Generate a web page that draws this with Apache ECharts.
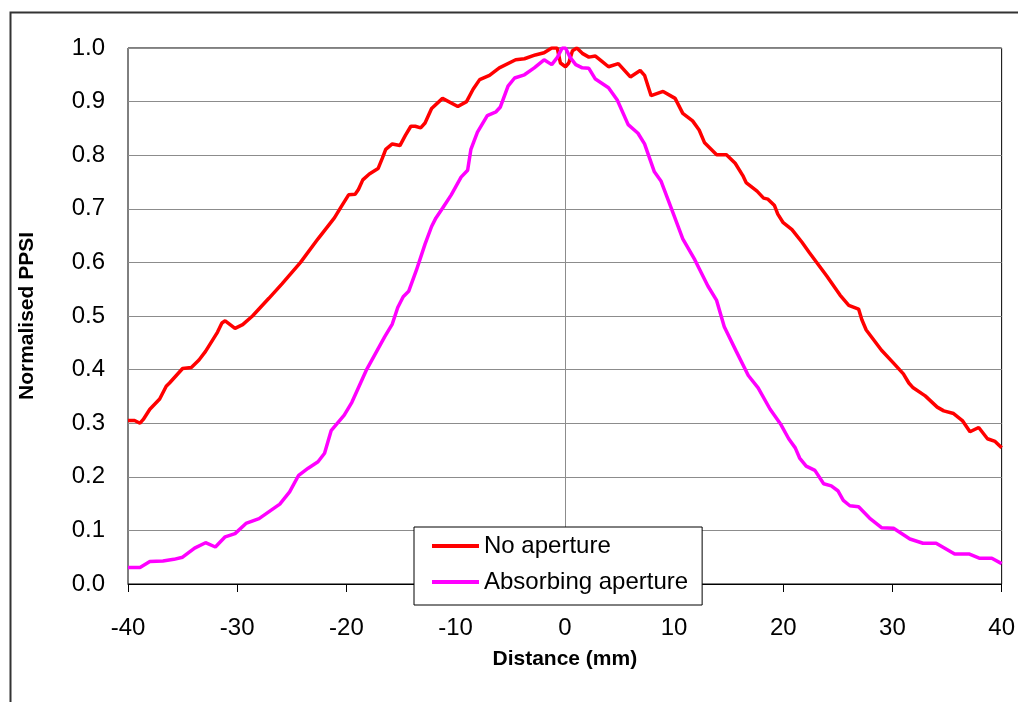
<!DOCTYPE html>
<html>
<head>
<meta charset="utf-8">
<script src="https://cdn.jsdelivr.net/npm/echarts@6/dist/echarts.min.js"></script>
<style>
html,body{margin:0;padding:0;background:#fff;}
#chart{width:1018px;height:702px;}
</style>
</head>
<body>
<div id="chart"></div>
<script>
// ---- Data ----
const seriesNames = ['No aperture', 'Absorbing aperture'];
const noApertureX = [-40,-39.4,-38.9,-38.6,-38.0,-37.1,-36.5,-36.2,-35.0,-34.2,-33.5,-32.9,-31.8,-31.4,-31.1,-30.2,-29.5,-28.6,-27.1,-25.9,-24.2,-22.6,-21.1,-20.5,-19.8,-19.2,-18.9,-18.5,-17.9,-17.1,-16.7,-16.4,-15.8,-15.1,-14.6,-14.1,-13.7,-13.2,-12.8,-12.2,-11.2,-9.8,-9.0,-8.4,-7.8,-6.9,-6.0,-4.5,-3.7,-2.7,-1.9,-1.2,-0.7,-0.4,0.06,0.36,0.7,1.1,1.6,2.2,2.8,3.4,4.0,4.9,6.0,6.9,7.3,7.9,9.0,10.1,10.8,11.7,12.3,12.8,13.9,14.8,15.6,16.3,16.6,17.6,18.2,18.6,19.2,19.5,20.0,20.8,21.7,22.4,23.1,24.0,25.2,26.0,26.9,27.2,27.6,29.0,30.1,31.0,31.5,31.9,33.0,34.1,34.7,35.6,36.4,37.1,37.9,38.7,39.4,40.0];
const noApertureY = [0.305,0.305,0.300,0.307,0.326,0.345,0.369,0.375,0.402,0.404,0.418,0.434,0.470,0.487,0.491,0.477,0.484,0.500,0.533,0.560,0.600,0.644,0.683,0.703,0.726,0.727,0.736,0.754,0.765,0.775,0.795,0.811,0.821,0.818,0.837,0.854,0.854,0.851,0.860,0.887,0.906,0.891,0.900,0.923,0.941,0.949,0.963,0.978,0.980,0.987,0.991,1.0,1.0,0.972,0.965,0.972,0.995,1.0,0.990,0.983,0.985,0.975,0.965,0.971,0.946,0.958,0.949,0.911,0.919,0.906,0.878,0.864,0.847,0.823,0.801,0.801,0.785,0.762,0.749,0.733,0.720,0.718,0.706,0.690,0.674,0.661,0.638,0.618,0.599,0.574,0.539,0.520,0.513,0.493,0.474,0.436,0.412,0.392,0.375,0.366,0.351,0.330,0.323,0.318,0.305,0.284,0.292,0.271,0.266,0.254];
const absorbingX = [-40,-38.9,-38.0,-36.8,-35.8,-35.0,-33.9,-32.9,-32.0,-31.1,-30.2,-29.2,-28.0,-26.1,-25.2,-24.4,-23.5,-22.6,-22.0,-21.4,-20.2,-19.5,-18.2,-16.5,-15.8,-15.3,-14.8,-14.3,-13.6,-12.8,-12.2,-11.8,-11.2,-10.4,-9.5,-8.9,-8.6,-8.0,-7.1,-6.3,-5.9,-5.2,-4.6,-3.7,-2.8,-1.9,-1.2,-0.7,-0.24,0.06,0.5,1.0,1.6,2.2,2.8,4.0,4.8,5.8,6.7,7.3,8.2,8.8,9.9,10.8,11.9,13.1,13.9,14.6,15.7,16.8,17.7,18.8,19.8,20.5,21.1,21.5,22.1,22.9,23.7,24.4,25.0,25.5,26.1,26.9,27.9,29.0,30.1,31.6,32.8,34.0,35.7,37.0,38.0,39.1,40.0];
const absorbingY = [0.031,0.031,0.042,0.043,0.046,0.050,0.067,0.077,0.069,0.088,0.094,0.113,0.122,0.149,0.172,0.202,0.216,0.228,0.244,0.286,0.315,0.339,0.398,0.461,0.485,0.516,0.536,0.546,0.585,0.634,0.667,0.683,0.701,0.726,0.759,0.772,0.811,0.843,0.874,0.881,0.890,0.929,0.944,0.950,0.963,0.978,0.969,0.982,1.0,1.0,0.982,0.969,0.963,0.962,0.942,0.926,0.903,0.857,0.841,0.821,0.769,0.752,0.693,0.644,0.605,0.556,0.529,0.480,0.434,0.389,0.366,0.326,0.297,0.271,0.254,0.235,0.220,0.212,0.187,0.183,0.174,0.156,0.146,0.144,0.123,0.105,0.104,0.084,0.076,0.076,0.056,0.056,0.048,0.048,0.038];
const xTicks = { min: -40, max: 40, interval: 10 };
const yTicks = { min: 0, max: 1, interval: 0.1 };
const xTitle = 'Distance (mm)';
const yTitle = 'Normalised PPSI';

function pairs(xs, ys) { return xs.map((x, i) => [x, ys[i]]); }

const FONT = '"Liberation Sans", Arial, sans-serif';
const chart = echarts.init(document.getElementById('chart'), null, { renderer: 'canvas' });
chart.setOption({
  animation: false,
  backgroundColor: '#fff',
  graphic: [{
    type: 'rect', left: 8, top: 10, silent: true,
    shape: { x: 0, y: 0, width: 1040, height: 720 },
    style: { fill: 'none', stroke: '#333', lineWidth: 2 }
  }],
  grid: { left: 128, right: 13, top: 48, bottom: 118, show: true, borderColor: '#000', borderWidth: 1, backgroundColor: 'transparent' },
  legend: {
    orient: 'vertical', left: 414, top: 527,
    padding: [7, 14, 11, 18],
    itemGap: 12, itemWidth: 47, itemHeight: 4,
    icon: 'rect',
    backgroundColor: '#fff', borderColor: '#000', borderWidth: 1, borderRadius: 0,
    textStyle: { fontFamily: FONT, fontSize: 24, color: '#000', lineHeight: 24 },
    data: seriesNames
  },
  xAxis: {
    type: 'value', min: xTicks.min, max: xTicks.max, interval: xTicks.interval,
    name: xTitle, nameLocation: 'middle', nameGap: 65,
    nameTextStyle: { fontFamily: FONT, fontSize: 21, fontWeight: 'bold', color: '#000' },
    axisLine: { onZero: false, lineStyle: { color: '#000', width: 1 } },
    axisTick: { show: true, length: 8, inside: false, lineStyle: { color: '#000' } },
    axisLabel: { fontFamily: FONT, fontSize: 24, color: '#000', margin: 32 },
    splitLine: { show: false }
  },
  yAxis: [{
    type: 'value', min: yTicks.min, max: yTicks.max, interval: yTicks.interval,
    name: yTitle, nameLocation: 'middle', nameGap: 90,
    nameTextStyle: { fontFamily: FONT, fontSize: 21, fontWeight: 'bold', color: '#000' },
    axisLine: { show: false, onZero: false },
    axisTick: { show: false },
    axisLabel: { fontFamily: FONT, fontSize: 24, color: '#000', margin: 23, formatter: v => v.toFixed(1) },
    splitLine: { show: true, lineStyle: { color: '#8c8c8c', width: 1 } }
  }, {
    type: 'value', min: yTicks.min, max: yTicks.max, interval: yTicks.interval, position: 'left',
    axisLine: { show: true, onZero: true, lineStyle: { color: '#8c8c8c', width: 1 } },
    axisTick: { show: true, length: 6, inside: false, lineStyle: { color: '#8c8c8c' } },
    axisLabel: { show: false },
    splitLine: { show: false }
  }],
  series: [{
    name: seriesNames[0], type: 'line', symbol: 'none', smooth: false,
    lineStyle: { color: '#ff0000', width: 3.5 }, itemStyle: { color: '#ff0000' },
    data: pairs(noApertureX, noApertureY), z: 3
  }, {
    name: seriesNames[1], type: 'line', symbol: 'none', smooth: false,
    lineStyle: { color: '#ff00ff', width: 3.5 }, itemStyle: { color: '#ff00ff' },
    data: pairs(absorbingX, absorbingY), z: 4
  }]
});
</script>
</body>
</html>
